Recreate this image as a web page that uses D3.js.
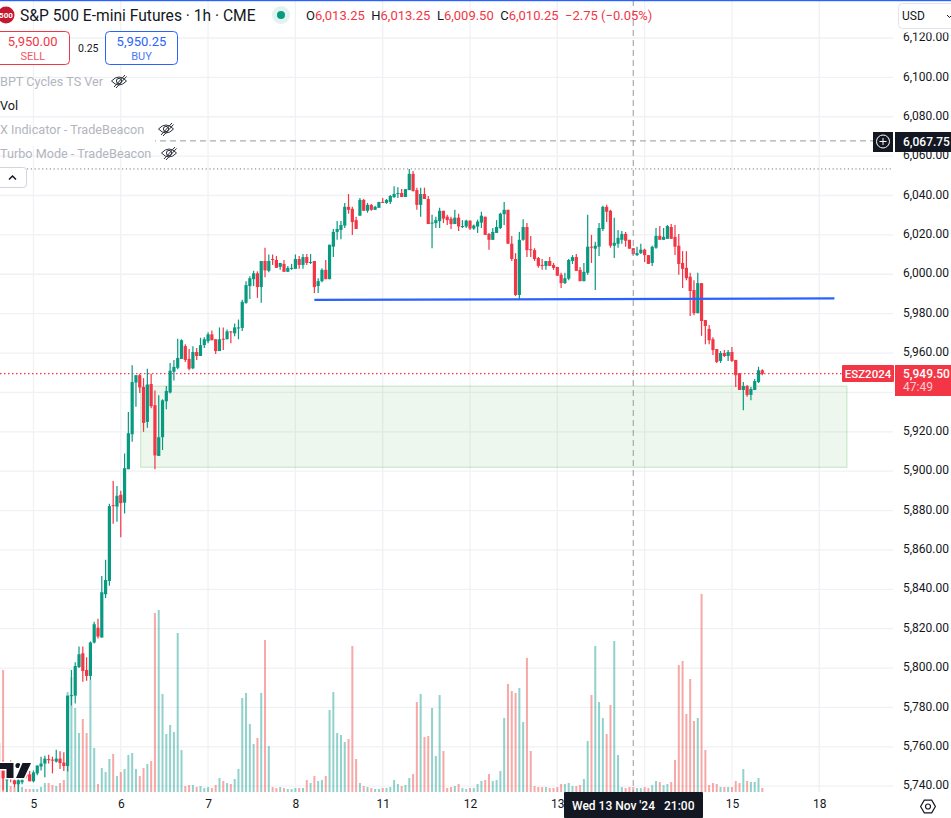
<!DOCTYPE html>
<html>
<head>
<meta charset="utf-8">
<title>ES1! 1h</title>
<script src="https://cdnjs.cloudflare.com/ajax/libs/d3/7.8.5/d3.min.js"></script>
<style>
  html, body { margin: 0; padding: 0; background: #fff; overflow: hidden; }
  text { font-family: Roboto, sans-serif; }
</style>
</head>
<body>
<svg id="chart" width="951" height="818"></svg>
<script>
// hourly bars
const opens = [
  5750,5748,5743,5746,5743,5741,5742,5746,5746,5742.5,
  5746.5,5750,5751.5,5753.75,5753.5,5752.5,5754,5752,5750.25,5786,
  5786,5800.5,5807.5,5799,5796,5813,5820.5,5815.5,5837.5,5844.25,
  5882.75,5882,5888,5884,5901,5918.75,5945,5948.75,5942.75,5925,
  5944.25,5933.5,5907.75,5917.25,5935.5,5940,5950.5,5952.5,5957,5963.5,
  5957,5952.25,5960.5,5958.5,5964,5966,5969.5,5967,5961,5967.25,
  5967,5971,5970,5972.75,5972.75,5985.5,5994,5997.5,6000.5,5993.5,
  6006.75,6001.75,6007.75,6007.25,6003.75,6005.25,6001.25,6002.75,6002.75,6007.75,
  6004.75,6008.75,6005.75,6006.75,5994,5996.5,6002.25,5997.5,6014,6021.5,
  6022.5,6024.75,6034.25,6033.25,6027.5,6029.75,6037.75,6032.25,6035.25,6032.75,
  6033.75,6036.75,6036.25,6036.75,6039.25,6040.75,6041.25,6039.25,6042.75,6051,
  6042.75,6035.25,6040.75,6038.25,6026,6026,6027,6032.25,6029.25,6028.25,
  6025.5,6028.75,6024,6024.25,6027.25,6023.25,6024.25,6026.25,6029.25,6020.5,
  6017.5,6021,6023.5,6030.5,6032.75,6015.5,6007.75,5989.5,6017.5,6024,
  6012.75,6012.25,6008.25,6004.75,6004.25,6006.75,6004.75,6003.75,5999.75,5995.5,
  5997.75,6006.75,6008.75,6002.25,5996.5,6000.75,6014,6013,6014,6023,
  6034.25,6032.25,6014.5,6015.5,6017.5,6020.5,6017.5,6013.25,6009.75,6010.75,
  6012.5,6009.75,6005.75,6013.5,6019.5,6017.5,6018,6024,6019,6014.5,
  6005.75,6003.25,5998.75,5992,5980.25,5995.5,5976.75,5972.25,5967,5962,
  5956,5960,5958.5,5960.5,5956.5,5949.75,5941.25,5943.25,5938.75,5941.25,
  5945.25,5951.25
];
const highs = [
  5752,5753,5749,5753,5744,5744,5745,5747,5747.75,5748,
  5750.5,5755,5755.5,5756,5755,5758.5,5757.75,5757.25,5786,5799,
  5803,5811,5811,5805.5,5813.5,5823.5,5825,5846.75,5855,5883.5,
  5895,5892.5,5890,5909,5930,5953.75,5948.75,5949.5,5947.25,5952,
  5949.5,5941,5938.5,5936.5,5943.25,5955,5956.5,5967.25,5967,5964.5,
  5962,5963.5,5962.5,5967.75,5968,5970.5,5971.5,5967,5973,5973,
  5972,5971,5975,5977,5987,5996.5,5999,6001.75,6001.5,6006.75,
  6013.5,6010,6010,6009.25,6005.75,6007.25,6004.25,6005.25,6010,6009.25,
  6010.25,6010.25,6010.25,6006.75,5998,6003,6007.25,6015,6023,6027,
  6027,6036.25,6040.75,6034.25,6029.25,6038.75,6038.25,6036.25,6035.75,6034.75,
  6036.75,6038.75,6038.25,6040.25,6044.75,6044.25,6043.25,6043.25,6053.5,6052.5,
  6044,6044,6044,6039.75,6030.25,6029.25,6033.75,6032.25,6030.25,6029.25,
  6032.75,6030.75,6027.5,6027.75,6027.25,6025.25,6027.75,6031.75,6029.25,6021,
  6023.5,6027.5,6031.25,6036.75,6032.75,6019.5,6010.75,6021.5,6028,6026,
  6019.5,6013.25,6008.75,6007.75,6006.75,6008.75,6005.75,6003.75,6000.75,6000.75,
  6007.75,6009.75,6010.25,6003.75,6005.75,6030.25,6020,6016.5,6026,6034.75,
  6035.25,6032.75,6028.75,6022.5,6022,6021.5,6017.5,6013.25,6014,6015.5,
  6013,6009.75,6014.5,6023.5,6024.5,6023.5,6025,6025.5,6025,6020.5,
  6011.75,6011.75,6000.75,5997,6000.75,5995.5,5976.75,5974.25,5968,5962,
  5961,5961.5,5961.5,5963,5956.5,5949.75,5945.25,5943.75,5942.75,5946.75,
  5953,5951.75
];
const lows = [
  5745,5738,5737,5742,5739.5,5737,5741,5744,5742.5,5742,
  5745.5,5748,5744.5,5751.5,5746.5,5752,5748.75,5747.75,5747.5,5781,
  5782,5800,5793,5793.5,5794,5812.5,5815,5815.5,5835.5,5841.75,
  5873.25,5874.25,5866.5,5878.5,5901,5915,5932.75,5939.75,5920,5922,
  5932,5901,5907.75,5910.75,5931.5,5939.5,5946,5951.75,5957,5955.5,
  5951.25,5951.75,5956.5,5958.5,5962.5,5965,5966.5,5959.5,5961,5961.5,
  5967,5965,5968.5,5967,5971.25,5985,5987.5,5994,5988,5985.5,
  5998.5,6001,6004.75,6003.25,6002.25,6001.25,6001.25,6002.25,6002.75,6002.75,
  6002.75,6004.75,6005.25,5990.5,5990.5,5996,5997.5,5997.5,6008.75,6017.5,
  6017.75,6023.5,6030.75,6020,6023,6029.75,6032.25,6031.25,6032.25,6032.75,
  6033.75,6036.25,6035.75,6035.75,6038.75,6038.75,6039.25,6039.25,6042.75,6042,
  6032.75,6029.25,6038.25,6025.5,6013.25,6023.5,6023.5,6026,6025,6023,
  6025.5,6022,6023.5,6023.5,6022.5,6022.5,6021,6023.5,6020,6012.5,
  6017.5,6021,6023,6025,6015.5,6006.75,5989,5987,6017,6008.75,
  6008.75,6006.75,6003.25,6002.25,6002.25,6004.25,6002.25,5999.25,5993,5995,
  5997,6005.25,6001.75,5996.5,5996.5,5999.75,6005.75,5992,6009.25,6022,
  6026.5,6013.5,6008.25,6013.5,6015.5,6014,6013,6009.5,6009.25,6010.25,
  6006.25,6005.25,6004.25,6013,6017.5,6017.5,6018,6018,6009.75,5999.75,
  5993,5997,5978.75,5979.25,5980.25,5968.75,5964.5,5964.5,5959,5955,
  5955,5958,5956,5955.5,5942.75,5941.25,5931,5937.75,5936,5941.25,
  5944.75,5948.75
];
const closes = [
  5748,5744,5745,5744,5741,5743,5743,5745,5742.5,5747,
  5750.5,5751.5,5754,5753.25,5753,5754,5751.75,5750.25,5786,5786.25,
  5801,5807,5798.5,5796,5813,5822.25,5816,5838.5,5844.75,5882.25,
  5882.25,5887.5,5883.75,5901.5,5919.25,5945.25,5948.75,5942.5,5924.5,5944,
  5933,5908,5917.25,5936,5940.75,5951,5953,5957.5,5966.5,5956.5,
  5952,5960.5,5958.5,5964,5967,5969.5,5966.5,5961,5967,5967,
  5971,5970.5,5973,5973,5986,5994.5,5998,6000.5,5993.5,6006.75,
  6002,6006.75,6007.25,6003.25,6005.75,6001.25,6003.25,6003.25,6007.75,6004.75,
  6008.75,6005.75,6006.25,5993.5,5996.5,6002.25,5997.5,6015,6021.5,6023,
  6025,6034.25,6032.75,6026.5,6023,6037.75,6032.25,6035.25,6032.75,6034.25,
  6036.75,6036.25,6037.75,6039.75,6040.75,6041.25,6039.25,6043.25,6051,6042.25,
  6035.25,6040.75,6038.25,6025.5,6026.25,6027.5,6032.25,6028.25,6027.5,6025.5,
  6028.75,6024.25,6024.5,6027.25,6023.25,6024.75,6026.75,6029.75,6020,6017.5,
  6021.5,6024,6030.75,6032.75,6015.5,6007.75,5989.5,6017.5,6024,6012.25,
  6012.25,6007.75,6004.25,6004.25,6006.75,6004.25,6003.25,5999.25,5995.5,5998,
  6007.25,6008.75,6001.75,5996.5,6001.25,6014,6013.5,6014.5,6023.5,6034.25,
  6031.75,6014.5,6016,6018.5,6020.5,6017,6013,6010.25,6010.75,6012.5,
  6009.75,6005.25,6014,6019.5,6017.5,6019,6024.5,6018,6014,6005.25,
  6002.75,5998,5991.5,5980.25,5995.5,5976.25,5973.75,5966.5,5961.5,5955.5,
  5960,5958.5,5960.5,5956,5948.75,5941.25,5943.25,5938.75,5941.75,5945.75,
  5951.25,5949.5
];
// volume in thousands of contracts
const volumes = [
  49,122,12,6,5,8,5,3,3,3,
  3,5,9,9,7,6,9,12,100,115,
  84,59,73,59,112,44,8,24,20,33,
  38,16,20,23,37,39,23,16,24,28,
  31,179,182,98,58,67,60,159,42,6,
  7,7,5,6,4,5,4,7,14,11,
  9,8,13,23,94,99,68,48,54,99,
  152,46,5,4,5,4,3,3,4,4,
  4,12,9,16,11,12,16,82,100,59,
  57,50,53,146,33,9,6,5,4,3,
  3,4,4,5,12,8,6,7,14,18,
  90,98,55,56,84,36,97,41,4,5,
  6,8,4,3,4,4,8,11,12,18,
  11,12,21,74,108,101,99,104,70,134,
  41,6,5,5,5,4,4,5,8,8,
  9,6,6,7,13,51,97,146,90,74,
  58,87,151,37,5,4,5,5,4,4,
  5,4,7,11,10,7,8,10,32,127,
  131,78,113,71,74,198,42,7,9,8,
  5,5,5,5,11,9,23,11,10,10,
  14,4
];

const gridPrices = [6120,6100,6080,6060,6040,6020,6000,5980,5960,5940,5920,5900,5880,5860,5840,5820,5800,5780,5760,5740];
// 5,940 sits under the last price tag, so it gets a grid line but no label
const priceTicks = gridPrices.filter(p => p !== 5940);
const gridBars = [9,32,55,78,101,124,147,170,193,216];
// the 14 sits under the time tag, same thing
const dayLabels = ["5","6","7","8","11","12","13","15","18"];
const dayBars = [9,32,55,78,101,124,147,193,216];

// drawings and levels
const zoneBars = [37.25, 223.3];
const zonePrices = [5943.2, 5902];
const trendBars = [83, 220];
const trendPrices = [5987, 5987.75];
const hoverBar = 167;
const hoverPrice = 6067.75;
const highPrice = 6053.5;
const lastPrice = 5949.5;

const ohlcLegend = [
  ["O", "6,013.25"], ["H", "6,013.25"], ["L", "6,009.50"], ["C", "6,010.25"]
];
const upColor = "#089981", downColor = "#f23645";

const svg = d3.select("#chart");
const x = d3.scaleLinear().domain([0, opens.length - 1]).range([-0.7, 762.3]);
const y = d3.scaleLinear().domain([5740, 6120]).range([786.2, 38]);
const volY = d3.scaleLinear().domain([0, 200]).range([792, 592]);
const isUp = i => closes[i] >= opens[i];
const bars = d3.range(opens.length);

// grid
const grid = svg.append("g").attr("stroke", "#f0f1f5").attr("stroke-width", 1.3);
grid.selectAll(".h").data(gridPrices).enter().append("line")
  .attr("x1", 0).attr("x2", 893).attr("y1", d => y(d)).attr("y2", d => y(d));
grid.selectAll(".v").data(gridBars).enter().append("line")
  .attr("x1", d => x(d)).attr("x2", d => x(d)).attr("y1", 0).attr("y2", 792);

// volume
svg.append("g").selectAll("rect").data(bars).enter().append("rect")
  .attr("x", i => x(i) - 1)
  .attr("width", 2)
  .attr("y", i => volY(volumes[i]))
  .attr("height", i => volY(0) - volY(volumes[i]))
  .attr("fill", i => isUp(i) ? "rgba(38,166,154,0.5)" : "rgba(239,83,80,0.5)");

// demand zone
svg.append("rect")
  .attr("x", x(zoneBars[0])).attr("width", x(zoneBars[1]) - x(zoneBars[0]))
  .attr("y", y(zonePrices[0])).attr("height", y(zonePrices[1]) - y(zonePrices[0]))
  .attr("fill", "rgba(76,175,80,0.1)")
  .attr("stroke", "rgba(76,175,80,0.3)");

// high and last price lines
svg.append("line").attr("x1", 27).attr("x2", 893)
  .attr("y1", y(highPrice)).attr("y2", y(highPrice))
  .attr("stroke", "#787b86").attr("stroke-dasharray", "1.2 2.6");
svg.append("line").attr("x1", 0).attr("x2", 843)
  .attr("y1", y(lastPrice)).attr("y2", y(lastPrice))
  .attr("stroke", downColor).attr("stroke-width", 1.2).attr("stroke-dasharray", "1.5 2.5");

// candles
const candles = svg.append("g");
candles.selectAll("line").data(bars).enter().append("line")
  .attr("x1", i => x(i)).attr("x2", i => x(i))
  .attr("y1", i => y(highs[i])).attr("y2", i => y(lows[i]))
  .attr("stroke", i => isUp(i) ? upColor : downColor)
  .attr("stroke-width", 1.2);
candles.selectAll("rect").data(bars).enter().append("rect")
  .attr("x", i => x(i) - 1.6)
  .attr("width", 3.2)
  .attr("y", i => y(Math.max(opens[i], closes[i])))
  .attr("height", i => Math.max(1, Math.abs(y(opens[i]) - y(closes[i]))))
  .attr("fill", i => isUp(i) ? upColor : downColor);

// trend line
svg.append("line")
  .attr("x1", x(trendBars[0])).attr("x2", x(trendBars[1]))
  .attr("y1", y(trendPrices[0])).attr("y2", y(trendPrices[1]))
  .attr("stroke", "#2962ff").attr("stroke-width", 2.2);

// crosshair
const crosshair = svg.append("g").attr("stroke", "#9598a1").attr("stroke-dasharray", "6 4");
crosshair.append("line").attr("x1", x(hoverBar)).attr("x2", x(hoverBar)).attr("y1", 0).attr("y2", 792);
crosshair.append("line").attr("x1", 0).attr("x2", 873).attr("y1", y(hoverPrice)).attr("y2", y(hoverPrice));

// tradingview mark
const mark = svg.append("g").attr("fill", "#131722")
  .attr("stroke", "#fff").attr("stroke-width", 3).style("paint-order", "stroke");
mark.append("path").attr("d", "M0 763H13.5V778H6.5V769H0Z");
mark.append("circle").attr("cx", 18).attr("cy", 765.5).attr("r", 2.6);
mark.append("path").attr("d", "M22.5 763H31L24 778H16Z");

// axes
const priceAxis = d3.axisRight(y).tickValues(priceTicks).tickFormat(d3.format(",.2f")).tickSize(0).tickPadding(0);
const priceG = svg.append("g").attr("transform", "translate(903,-1.2)").call(priceAxis);
priceG.select(".domain").remove();
priceG.selectAll("text").attr("fill", "#131722").style("font-size", "12px").style("font-family", "Roboto");

const timeAxis = d3.axisBottom(x).tickValues(dayBars)
  .tickFormat((d, i) => dayLabels[i]).tickSize(0).tickPadding(0);
const timeG = svg.append("g").attr("transform", "translate(0,799)").call(timeAxis);
timeG.select(".domain").remove();
timeG.selectAll("text").attr("fill", "#131722").style("font-size", "12px").style("font-family", "Roboto");

// top header
svg.append("rect").attr("width", 951).attr("height", 1.2).attr("fill", "#2962ff");
svg.append("circle").attr("cx", 6).attr("cy", 15).attr("r", 8.5).attr("fill", "#c4182f");
svg.append("text").attr("x", 6).attr("y", 18).attr("text-anchor", "middle")
  .attr("fill", "#fff").attr("font-size", 8).attr("font-weight", 700).text("500");
svg.append("text").attr("x", 20).attr("y", 20.5).attr("fill", "#131722")
  .attr("font-size", 15.6).text("S&P 500 E-mini Futures · 1h · CME");
svg.append("circle").attr("cx", 281).attr("cy", 15).attr("r", 9).attr("fill", "#e0f3ef");
svg.append("circle").attr("cx", 281).attr("cy", 15).attr("r", 4).attr("fill", upColor);

const ohlc = svg.append("text").attr("x", 306).attr("y", 20).attr("font-size", 13);
ohlcLegend.forEach(([k, v], i) => {
  ohlc.append("tspan").attr("fill", "#131722").attr("dx", i ? 6.5 : 0).text(k);
  ohlc.append("tspan").attr("fill", downColor).text(v);
});
ohlc.append("tspan").attr("fill", downColor).attr("dx", 6.5).text("−2.75 (−0.05%)");

// sell / buy
function tradeBox(bx, bw, color, price, label) {
  svg.append("rect").attr("x", bx).attr("y", 31.5).attr("width", bw).attr("height", 33)
    .attr("rx", 4).attr("fill", "#fff").attr("stroke", color);
  svg.append("text").attr("x", bx + bw / 2).attr("y", 46).attr("text-anchor", "middle")
    .attr("fill", color).attr("font-size", 13).text(price);
  svg.append("text").attr("x", bx + bw / 2).attr("y", 60).attr("text-anchor", "middle")
    .attr("fill", color).attr("font-size", 11).attr("opacity", 0.85).text(label);
}
tradeBox(-4, 73.5, downColor, "5,950.00", "SELL");
tradeBox(105.5, 72, "#2962ff", "5,950.25", "BUY");
svg.append("text").attr("x", 78).attr("y", 52).attr("fill", "#131722").attr("font-size", 10.5).text("0.25");

// indicator legend
function eye(cx, cy) {
  const g = svg.append("g").attr("transform", `translate(${cx},${cy})`)
    .attr("fill", "none").attr("stroke", "#2a2e39").attr("stroke-width", 1);
  g.append("path").attr("d", "M-7.5 0Q0 -8 7.5 0Q0 8 -7.5 0Z");
  g.append("circle").attr("r", 2.6);
  g.append("path").attr("d", "M-5 6L6 -6M-3 7L7.5 -4.5");
}
svg.append("rect").attr("x", 0).attr("y", 136).attr("width", 155).attr("height", 10).attr("fill", "#fff");
const legendRows = [
  ["BPT Cycles TS Ver", 0, 85.5, "#b2b5be", 119],
  ["Vol", 0, 109.5, "#131722", null],
  ["X Indicator - TradeBeacon", 0, 133.5, "#b2b5be", 166],
  ["Turbo Mode - TradeBeacon", 0, 157.5, "#b2b5be", 169]
];
legendRows.forEach(([label, lx, ly, color, eyeX]) => {
  svg.append("text").attr("x", lx).attr("y", ly).attr("fill", color).attr("font-size", 12.65).text(label);
  if (eyeX) eye(eyeX, ly - 4.5);
});

// collapse button
svg.append("rect").attr("x", -3).attr("y", 167.5).attr("width", 29.5).attr("height", 20)
  .attr("rx", 3).attr("fill", "#fff").attr("stroke", "#d1d4dc");
svg.append("path").attr("d", "M9 179.5L12.5 176L16 179.5").attr("fill", "none")
  .attr("stroke", "#131722").attr("stroke-width", 1.5);

// USD box
svg.append("rect").attr("x", 895).attr("y", 28.5).attr("width", 56).attr("height", 4).attr("fill", "#fff");
svg.append("rect").attr("x", 898.5).attr("y", 3.5).attr("width", 60).attr("height", 25)
  .attr("rx", 4).attr("fill", "#fff").attr("stroke", "#e0e3eb");
svg.append("text").attr("x", 902).attr("y", 20).attr("fill", "#131722").attr("font-size", 12).text("USD");
svg.append("path").attr("d", "M947 15L949.5 17.5L952 15").attr("fill", "none").attr("stroke", "#131722");

// crosshair price tag
svg.append("rect").attr("x", 873).attr("y", 132).attr("width", 20).attr("height", 20).attr("fill", "#131722");
svg.append("circle").attr("cx", 883).attr("cy", 141.5).attr("r", 6.5).attr("fill", "none").attr("stroke", "#fff");
svg.append("path").attr("d", "M879.5 141.5H886.5M883 138V145").attr("stroke", "#fff");
svg.append("rect").attr("x", 895).attr("y", 132).attr("width", 56).attr("height", 20).attr("fill", "#131722");
svg.append("text").attr("x", 903).attr("y", 146).attr("fill", "#fff").attr("font-size", 12)
  .attr("font-weight", 500).text(d3.format(",.2f")(hoverPrice));

// last price tags
svg.append("rect").attr("x", 842).attr("y", 365).attr("width", 52).attr("height", 17).attr("rx", 1).attr("fill", downColor);
svg.append("text").attr("x", 868).attr("y", 378).attr("text-anchor", "middle").attr("fill", "#fff")
  .attr("font-size", 11.5).attr("font-weight", 500).text("ESZ2024");
svg.append("rect").attr("x", 895).attr("y", 365).attr("width", 56).attr("height", 31).attr("fill", downColor);
svg.append("text").attr("x", 903).attr("y", 377.5).attr("fill", "#fff").attr("font-size", 12)
  .attr("font-weight", 500).text(d3.format(",.2f")(lastPrice));
svg.append("text").attr("x", 903).attr("y", 391).attr("fill", "#fff").attr("fill-opacity", 0.75)
  .attr("font-size", 12).text("47:49");

// crosshair time tag
svg.append("rect").attr("x", 564).attr("y", 792).attr("width", 139).attr("height", 26).attr("rx", 1).attr("fill", "#131722");
svg.append("text").attr("x", 572).attr("y", 810).attr("fill", "#fff").attr("font-size", 12)
  .attr("font-weight", 500).text("Wed 13 Nov '24");
svg.append("text").attr("x", 664).attr("y", 810).attr("fill", "#fff").attr("font-size", 12)
  .attr("font-weight", 500).text("21:00");

// settings icon
const gear = svg.append("g").attr("transform", "translate(928,806.5)").attr("fill", "none")
  .attr("stroke", "#131722").attr("stroke-width", 1.2);
gear.append("path").attr("d", d3.line().curve(d3.curveLinearClosed)(d3.range(6).map(k => {
  const a = Math.PI / 3 * k;
  return [7.4 * Math.cos(a), 7.4 * Math.sin(a)];
})));
gear.append("circle").attr("r", 2.5);
</script>
</body>
</html>
